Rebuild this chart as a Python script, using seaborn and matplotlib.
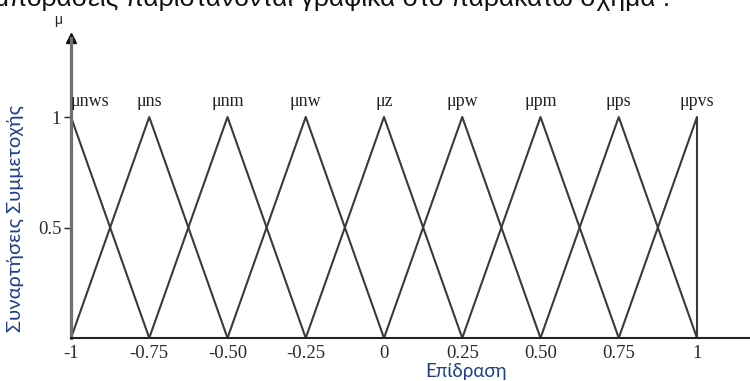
import matplotlib
matplotlib.use("Agg")
import matplotlib.pyplot as plt
import seaborn as sns
import pandas as pd

# ---- data ----
names = ["μnws", "μns", "μnm", "μnw", "μz", "μpw", "μpm", "μps", "μpvs"]
peaks = [-1.0, -0.75, -0.50, -0.25, 0.0, 0.25, 0.50, 0.75, 1.0]
half_width = 0.25
tick_vals = [-1, -0.75, -0.50, -0.25, 0, 0.25, 0.50, 0.75, 1]
tick_labels = ["-1", "-0.75", "-0.50", "-0.25", "0", "0.25", "0.50", "0.75", "1"]
ytick_vals = [0.5, 1]
ytick_labels = ["0.5", "1"]

rows = []
for n, c in zip(names, peaks):
    xs = [c - half_width, c, c + half_width]
    ys = [0, 1, 0]
    pts = []
    for x, y in zip(xs, ys):
        if x < -1:
            continue
        if x > 1:
            # right shoulder: vertical drop at the domain end
            pts.append((1.0, 0.0))
            continue
        pts.append((x, y))
    for i, (x, y) in enumerate(pts):
        rows.append({"name": n, "order": i, "x": x, "y": y})
df = pd.DataFrame(rows)

sns.set_theme(style="white")
fig = plt.figure(figsize=(7.5, 3.81), dpi=100)

W, H = 750.0, 381.0
x0_px, x1_px = 71.0, 697.0      # x=-1 and x=1
y0_px, y1_px = 338.0, 117.0     # y=0 and y=1 (from top)
ppx = (x1_px - x0_px) / 2.0
ppy = (y0_px - y1_px)
xmax = 1 + (W - x1_px) / ppx
ytop_px = 38.0
ymax = (y0_px - ytop_px) / ppy
ax = fig.add_axes([x0_px / W, (H - y0_px) / H, (W - x0_px) / W, (y0_px - ytop_px) / H])
ax.set_xlim(-1, xmax)
ax.set_ylim(0, ymax)

line_col = "#3a3a3a"
sns.lineplot(data=df, x="x", y="y", hue="name", units="name", estimator=None,
             sort=False, palette=[line_col] * len(names), linewidth=1.5,
             legend=False, ax=ax, clip_on=False)

for n, c in zip(names, peaks):
    ha = "left" if c == -1 else "center"
    ax.text(c, 1.07, n, ha=ha, va="center", fontsize=13,
            family="Liberation Serif", color="#222222")

# axes styling
for s in ["top", "right"]:
    ax.spines[s].set_visible(False)
ax.spines["left"].set_color("#6f6f6f")
ax.spines["left"].set_linewidth(2.3)
ax.spines["bottom"].set_color("#222222")
ax.spines["bottom"].set_linewidth(1.5)
ax.plot(0, 1, marker="^", color="#111111", markersize=7, transform=ax.transAxes,
        clip_on=False)

ax.set_xticks(tick_vals)
ax.set_xticklabels(tick_labels)
ax.set_yticks(ytick_vals)
ax.set_yticklabels(ytick_labels)
ax.tick_params(axis="x", length=0, pad=5, labelsize=13.5, labelcolor="#2a2a2a")
ax.tick_params(axis="y", length=5, width=1, color="#222222", direction="out",
               pad=2, labelsize=13.5, labelcolor="#2a2a2a", left=True)
for lab in ax.get_xticklabels() + ax.get_yticklabels():
    lab.set_family("Liberation Serif")
ax.set_xlabel("")
ax.set_ylabel("")
ax.grid(False)

blue = "#1F3F8A"
fig.text(15 / W, 1 - 218 / H, "Συναρτήσεις Συμμετοχής", rotation=90, ha="center",
         va="center", color=blue, fontsize=14.5, family="Lato")
fig.text(466 / W, 1 / H, "Επίδραση", ha="center", va="bottom",
         color=blue, fontsize=13.5, family="Lato")
fig.text(58 / W, 1 - 20 / H, "μ", ha="center", va="center", fontsize=10,
         family="Liberation Sans", color="#222222")
fig.text(-6 / W, 1 - 6 / H, "μποράσεις παριστάνονται γραφικά στο παρακάτω σχήμα :",
         ha="left", va="baseline", fontsize=19, family="Liberation Sans",
         color="#111111")

fig.savefig("out.png", dpi=100)
